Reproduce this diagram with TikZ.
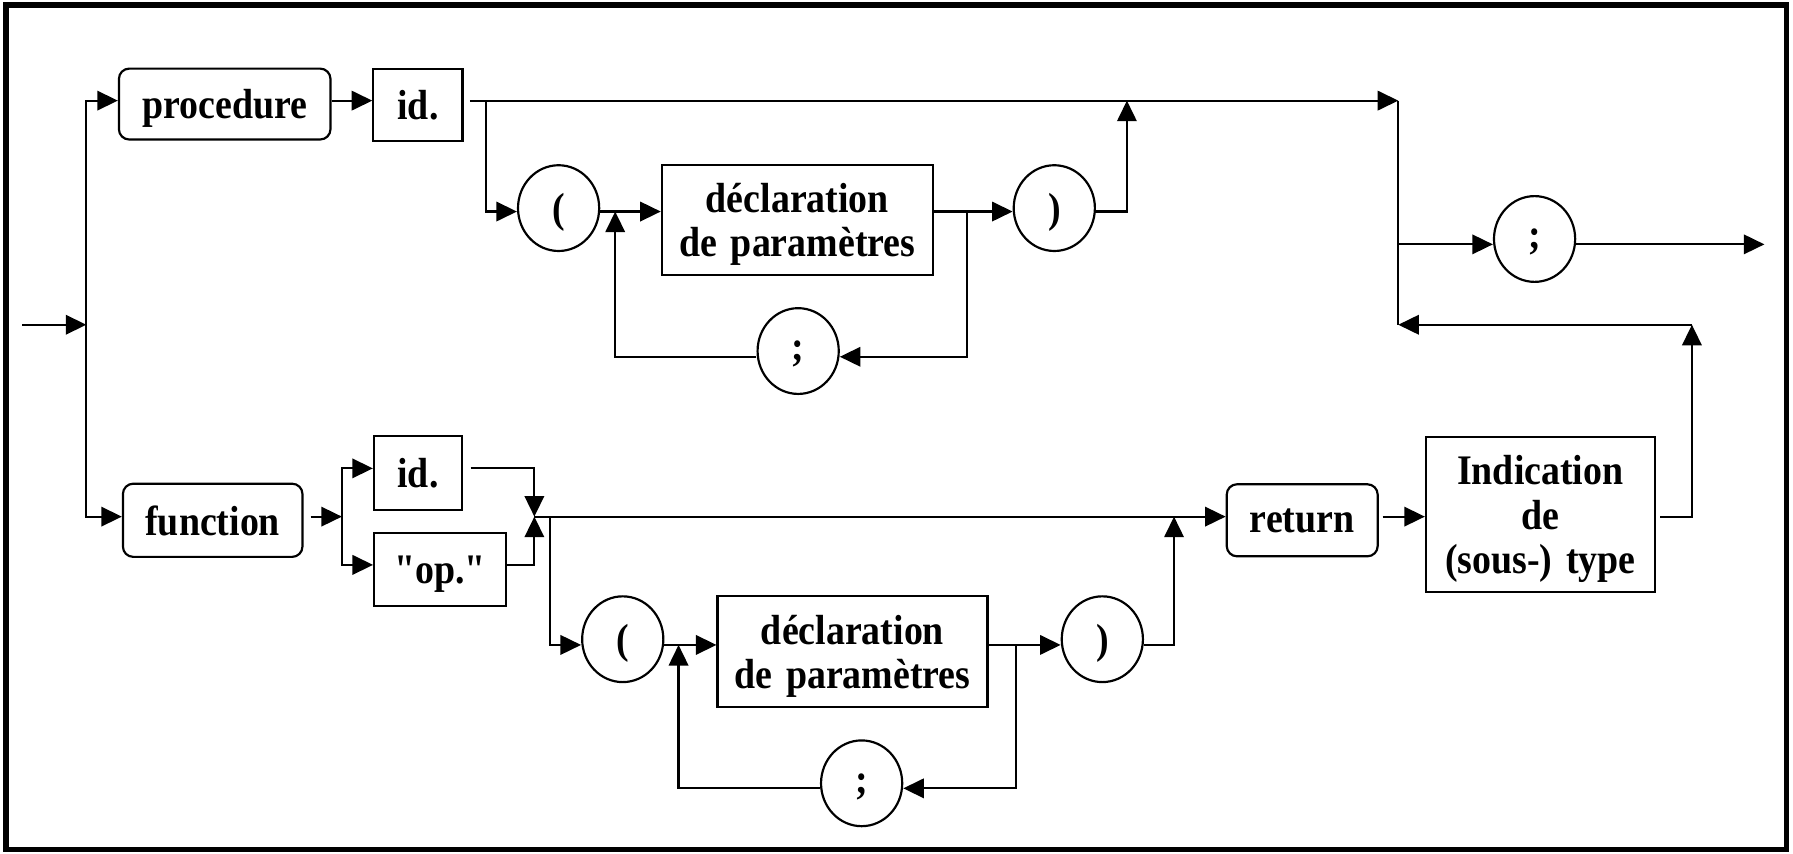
\documentclass[tikz,border=0pt]{standalone}
\usepackage{fontspec}
\newfontfamily\lblfont{Liberation Serif}[FakeStretch=0.90]
\usetikzlibrary{arrows.meta,shapes.geometric}
\newcommand\lblsize[1]{\lblfont\bfseries\fontsize{36.8}{#1}\selectfont\spaceskip=12pt plus 2pt\relax}
\begin{document}
\begin{tikzpicture}[x=1pt,y=-1pt,
  line width=1.9pt,
  lbl/.style={font=\lblsize{38}, inner sep=0pt, align=center, text depth=0pt},
  term/.style={lbl, draw, rounded corners=9pt},
  nterm/.style={lbl, draw},
  sym/.style={lbl, draw, ellipse, minimum width=71pt, minimum height=75pt},
  arr/.style={-{Triangle[length=18pt,width=17pt]}},
]
\useasboundingbox (0,0) rectangle (1568,746);
\draw[line width=4.5pt] (5.3,4.4) rectangle (1562,743);

% ---- procedure branch ----
\node[term, minimum width=185pt, minimum height=62pt] (proc) at (196.5,91) {procedure};
\node[nterm, minimum width=78pt, minimum height=63pt] (id1) at (365.5,91.5) {id.};
\node[sym] (lp1) at (488.5,182) {(};
\node[nterm, minimum width=237pt, minimum height=96pt] (d1) at (697.3,192.4) {déclaration\\de paramètres};
\node[sym] (rp1) at (922,182) {)};
\node[sym] (sc1) at (698,307) {;};

% ---- final semicolon ----
\node[sym] (sc3) at (1342,209) {;};

% ---- function branch ----
\node[term, minimum width=157pt, minimum height=64pt] (func) at (186,455) {function};
\node[nterm, minimum width=77pt, minimum height=65pt] (id2) at (365.5,413.6) {id.};
\node[nterm, minimum width=115pt, minimum height=64pt] (op) at (384.7,497.8) {"op."};
\node[sym] (lp2) at (544.6,559) {(};
\node[nterm, minimum width=236pt, minimum height=97pt] (d2) at (745.5,569.9) {déclaration\\de paramètres};
\node[sym] (rp2) at (964,559) {)};
\node[sym] (sc2) at (753.5,685) {;};
\node[term, minimum width=132pt, minimum height=63pt] (ret) at (1138.8,455) {return};
\node[nterm, minimum width=200pt, minimum height=136pt, font=\lblsize{39}]
     (ind) at (1347,450) {Indication\\de\\(sous-) type};

% ---- row levels ----
\coordinate (yA) at (0,88);
\coordinate (yB) at (0,185);
\coordinate (lB) at (0,312);
\coordinate (yR) at (0,213.7);
\coordinate (yC) at (0,451.8);
\coordinate (yId2) at (0,409.6);
\coordinate (yOp) at (0,494);
\coordinate (yD) at (0,564);
\coordinate (lD) at (0,689.4);

% ---- entry rail ----
\coordinate (in) at (19.5,284);
\coordinate (railM) at (75.5,284);
\draw[arr] (in) -- (railM);
\draw[arr] (railM) |- (proc.west |- yA);
\draw[arr] (railM) |- (func.west |- yC);

% ---- procedure path ----
\draw[arr] (proc.east |- yA) -- (id1.west |- yA);
\coordinate (a0) at (411,88);
\coordinate (rjA) at (1222.8,88);
\coordinate (rjR) at (1222.8,284);
\draw[arr] (a0) -- (rjA);
\coordinate (b0) at (424.7,88);
\draw[arr] (b0) |- (lp1.west |- yB);
\coordinate (jB1) at (538,185);
\coordinate (jB2) at (845.4,185);
\coordinate (uA) at (985.5,88);
\draw[arr] (lp1.east |- yB) -- (d1.west |- yB);
\draw[arr] (d1.east |- yB) -- (rp1.west |- yB);
\draw[arr] (rp1.east |- yB) -| (uA);
\draw[arr] (jB2) |- (sc1.east |- lB);
\draw[arr] (sc1.west |- lB) -| (jB1);

% ---- right side: semicolon and return loop ----
\draw (rjA) -- (rjR);
\draw[arr] (rjA |- yR) -- (sc3.west |- yR);
\coordinate (out) at (1543,213.7);
\draw[arr] (sc3.east |- yR) -- (out);
\coordinate (retUp) at (1479.6,284);
\coordinate (indOut) at (1452,451.8);
\draw[arr] (indOut) -| (retUp);
\draw[arr] (retUp) -- (rjR);

% ---- function path ----
\coordinate (fOut) at (271.7,451.8);
\coordinate (fork) at (299,451.8);
\draw[arr] (fOut) -- (fork);
\draw[arr] (fork) |- (id2.west |- yId2);
\draw[arr] (fork) |- (op.west |- yOp);
\coordinate (mC) at (467.3,451.8);
\coordinate (id2Out) at (411.6,409.6);
\draw[arr] (id2Out) -| (mC);
\draw[arr] (op.east |- yOp) -| (mC);
\draw[arr] (mC) -- (ret.west |- yC);
\coordinate (bC) at (481,451.8);
\draw[arr] (bC) |- (lp2.west |- yD);
\coordinate (jD1) at (593.4,564);
\coordinate (jD2) at (888.2,564);
\coordinate (uD) at (1026.7,451.8);
\draw[arr] (lp2.east |- yD) -- (d2.west |- yD);
\draw[arr] (d2.east |- yD) -- (rp2.west |- yD);
\draw[arr] (rp2.east |- yD) -| (uD);
\draw[arr] (jD2) |- (sc2.east |- lD);
\draw[arr] (sc2.west |- lD) -| (jD1);
\coordinate (retOut) at (1209,451.8);
\draw[arr] (retOut) -- (ind.west |- yC);
\end{tikzpicture}
\end{document}
